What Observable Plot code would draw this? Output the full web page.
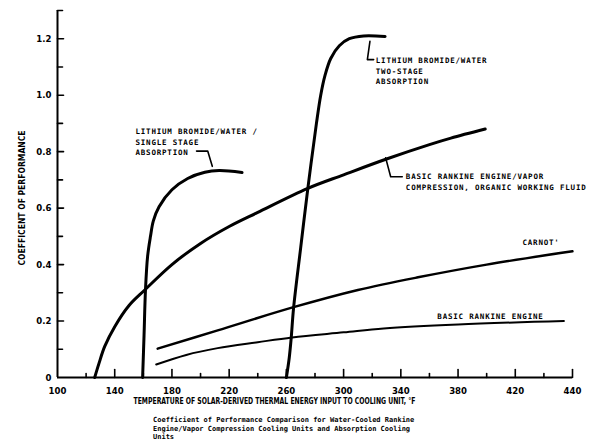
<!DOCTYPE html>
<html>
<head>
<meta charset="utf-8">
<script src="https://cdn.jsdelivr.net/npm/d3@7"></script>
<script src="https://cdn.jsdelivr.net/npm/@observablehq/plot@0.6"></script>
<style>
  body { margin: 0; background: #fff; }
  #chart { position: absolute; left: 0; top: 0; }
  #caption {
    position: absolute; left: 153px; top: 416px;
    font-family: "DejaVu Sans Mono", monospace; font-weight: bold;
    font-size: 7px; line-height: 8.5px; color: #000; white-space: pre;
  }
  g[aria-description="curve label"] text { letter-spacing: 0.8px; }
</style>
</head>
<body>
<div id="chart"></div>
<div id="caption">Coefficient of Performance Comparison for Water-Cooled Rankine
Engine/Vapor Compression Cooling Units and Absorption Cooling
Units</div>
<script>
// Axis ticks (°F on x, coefficient of performance on y)
const tempTicks = [100, 140, 180, 220, 260, 300, 340, 380, 420, 460];
const tempTickLabels = ["100", "140", "180", "220", "260", "300", "340", "380", "420", "440"];
const tempMinorTicks = [120, 160, 200, 240, 280, 320, 360, 400, 440];
const copTicks = [0, 0.2, 0.4, 0.6, 0.8, 1.0, 1.2];
const copTickLabels = ["0", "0.2", "0.4", "0.6", "0.8", "1.0", "1.2"];
const copMinorTicks = [0.1, 0.3, 0.5, 0.7, 0.9, 1.1, 1.3];

// Curves: [temperature °F, COP]
const librSingleStage = [[159.5, 0], [160.5, 0.15], [161.5, 0.31], [163, 0.43], [165, 0.5], [167, 0.555],
  [171, 0.605], [180, 0.665], [191, 0.705], [203, 0.727], [213, 0.733], [229, 0.726]];
const librTwoStage = [[260, 0], [262, 0.07], [263.4, 0.142], [265, 0.245], [270, 0.46], [275, 0.67],
  [281, 0.9], [284, 1.0], [287, 1.07], [291, 1.13], [297, 1.175], [304, 1.2], [314, 1.21], [329, 1.208]];
const rankineVaporOrganic = [[126, 0], [129, 0.05], [133, 0.11], [140, 0.18], [150, 0.255], [161, 0.31],
  [180, 0.4], [200, 0.475], [220, 0.535], [240, 0.585], [275, 0.67], [300, 0.718], [330, 0.774],
  [360, 0.825], [375, 0.848], [399, 0.88]];
const carnot = [[170, 0.102], [212, 0.167], [265, 0.249], [310, 0.31], [352, 0.355], [400, 0.4], [460, 0.447]];
const basicRankine = [[169, 0.046], [190, 0.08], [212, 0.104], [240, 0.125], [264, 0.142], [300, 0.16],
  [328, 0.174], [380, 0.188], [454, 0.2]];

// Curve labels and their leader lines
const curveLabels = [
  {text: "LITHIUM BROMIDE/WATER /\nSINGLE STAGE\nABSORPTION", x: 154.5, y: 0.888},
  {text: "LITHIUM BROMIDE/WATER\nTWO-STAGE\nABSORPTION", x: 322.5, y: 1.14},
  {text: "BASIC RANKINE ENGINE/VAPOR\nCOMPRESSION, ORGANIC WORKING FLUID", x: 343.5, y: 0.728},
  {text: "CARNOT'", x: 425, y: 0.494},
  {text: "BASIC RANKINE ENGINE", x: 365.5, y: 0.235}
];
const leaders = [
  [[197.2, 0.802], [205, 0.802], [208.2, 0.748]],
  [[318.4, 1.191], [316.6, 1.126], [321, 1.126]],
  [[329.4, 0.778], [332.9, 0.711], [341, 0.711]]
];

const xTitle = "TEMPERATURE OF SOLAR-DERIVED THERMAL ENERGY INPUT TO COOLING UNIT, \u00B0F";
const yTitle = "COEFFICENT OF PERFORMANCE";

const tickShape = {draw(ctx, l) { ctx.moveTo(0, 0); ctx.lineTo(0, -l); }};
const axisFont = "'Liberation Sans Narrow', 'DejaVu Sans Condensed', sans-serif";
const labelFont = "'DejaVu Sans Mono', monospace";

const chart = Plot.plot({
  width: 591,
  height: 410,
  marginLeft: 57,
  marginRight: 19,
  marginTop: 10,
  marginBottom: 33,
  x: {type: "linear", domain: [100, 460], axis: null},
  y: {type: "linear", domain: [0, 1.3], axis: null},
  marks: [
    // axis lines
    Plot.ruleX([100], {y1: 0, y2: 1.3, strokeWidth: 2}),
    Plot.ruleY([0], {x1: 100, x2: 460, strokeWidth: 2}),
    // tick marks pointing into the plot
    Plot.vector(tempTicks.slice(1), {x: d => d, y: 0, length: 8, anchor: "start", shape: tickShape, strokeWidth: 1.6}),
    Plot.vector(tempMinorTicks, {x: d => d, y: 0, length: 4, anchor: "start", shape: tickShape, strokeWidth: 1.6}),
    Plot.vector(copTicks.slice(1), {x: 100, y: d => d, length: 6, rotate: 90, anchor: "start", shape: tickShape, strokeWidth: 1.6}),
    Plot.vector(copMinorTicks, {x: 100, y: d => d, length: 5, rotate: 90, anchor: "start", shape: tickShape, strokeWidth: 1.6}),
    // tick labels
    Plot.text(tempTicks, {x: d => d, y: 0, text: (d, i) => tempTickLabels[i], dy: 13,
      fontFamily: axisFont, fontWeight: "bold", fontSize: 9.5}),
    Plot.text(copTicks, {x: 100, y: d => d, text: (d, i) => copTickLabels[i], dx: -6, textAnchor: "end",
      fontFamily: axisFont, fontWeight: "bold", fontSize: 9.5}),
    // axis titles
    Plot.text([xTitle], {
      frameAnchor: "bottom-left", dx: 76, dy: 26, textAnchor: "start",
      fontFamily: axisFont, fontWeight: "bold", fontSize: 9.5, ariaDescription: "x title"}),
    Plot.text([yTitle], {
      frameAnchor: "left", dx: -35, dy: 4, rotate: -90, textAnchor: "middle",
      fontFamily: axisFont, fontWeight: "bold", fontSize: 9, ariaDescription: "y title"}),
    // curves
    Plot.line(rankineVaporOrganic, {x: d => d[0], y: d => d[1], curve: "catmull-rom", strokeWidth: 3}),
    Plot.line(librSingleStage, {x: d => d[0], y: d => d[1], curve: "catmull-rom", strokeWidth: 3}),
    Plot.line(librTwoStage, {x: d => d[0], y: d => d[1], curve: "catmull-rom", strokeWidth: 3}),
    Plot.line(carnot, {x: d => d[0], y: d => d[1], curve: "catmull-rom", strokeWidth: 2.4}),
    Plot.line(basicRankine, {x: d => d[0], y: d => d[1], curve: "catmull-rom", strokeWidth: 2}),
    // leaders and labels
    ...leaders.map(l => Plot.line(l, {x: d => d[0], y: d => d[1], strokeWidth: 1.6})),
    Plot.text(curveLabels, {x: "x", y: "y", text: "text", textAnchor: "start", lineAnchor: "top",
      lineHeight: 1.4, fontFamily: labelFont, fontWeight: "bold", fontSize: 7.5, ariaDescription: "curve label"})
  ]
});

// fit the axis titles to their set lengths
d3.select(chart).select('g[aria-description="x title"] text')
  .attr("textLength", 282).attr("lengthAdjust", "spacingAndGlyphs");
d3.select(chart).select('g[aria-description="y title"] text')
  .attr("textLength", 135).attr("lengthAdjust", "spacingAndGlyphs");

document.getElementById("chart").append(chart);
</script>
</body>
</html>
